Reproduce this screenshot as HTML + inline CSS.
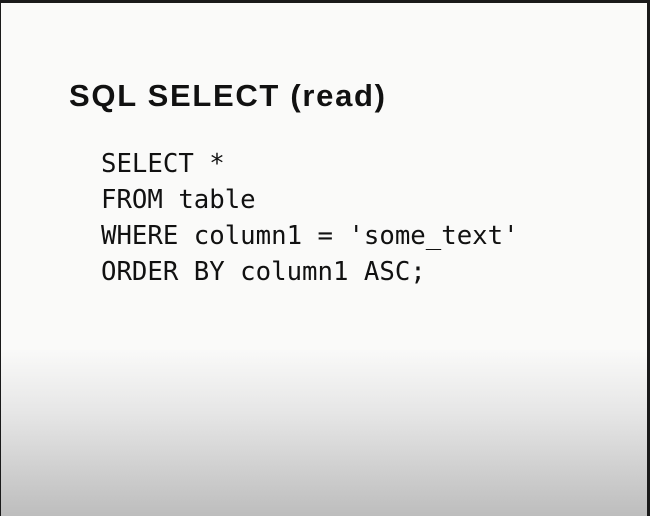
<!DOCTYPE html>
<html><head><style>
html,body{margin:0;padding:0}
body{width:650px;height:516px;position:relative;overflow:hidden;background:#1a1a1a}
.slide{position:absolute;left:1px;top:3px;width:646px;height:513px;
background:linear-gradient(to bottom,#fafaf9 0px,#fafaf9 345px,#e6e6e6 410px,#bdbdbd 513px)}
.t{position:absolute;left:69px;top:78px;font:bold 31px "Liberation Sans",sans-serif;letter-spacing:1.7px;color:#111;white-space:pre;line-height:36px}
.c{position:absolute;left:101px;top:146px;font:25.7px "DejaVu Sans Mono",monospace;color:#111;white-space:pre;line-height:36px}
</style></head><body>
<div class="slide"></div>
<div class="t">SQL SELECT (read)</div>
<div class="c">SELECT *
FROM table
WHERE column1 = 'some_text'
ORDER BY column1 ASC;</div>
</body></html>
